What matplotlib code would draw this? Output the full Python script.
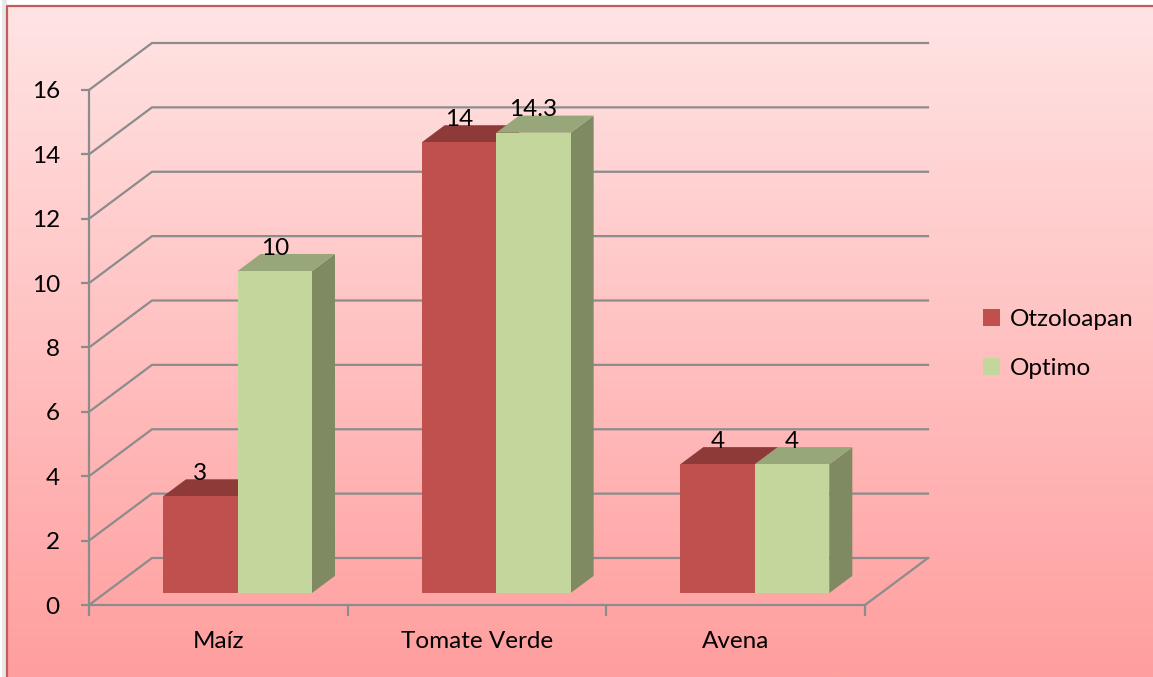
import numpy as np
import matplotlib
matplotlib.use('Agg')
import matplotlib.pyplot as plt
from matplotlib.patches import Polygon, Rectangle, Patch

# ---------------- data ----------------
categories = ['Maíz', 'Tomate Verde', 'Avena']
series_names = ['Otzoloapan', 'Optimo']
otzoloapan = [3, 14, 4]
optimo = [10, 14.3, 4]
y_ticks = [0, 2, 4, 6, 8, 10, 12, 14, 16]

# ---------------- style ----------------
front_cols = ['#C0504D', '#C3D69B']
top_cols = ['#8E3A38', '#98A77A']
side_cols = ['#8E3A38', '#7F8A62']
grid_col = '#8C8C8C'
FONT = 'Lato'
FS = 17.5

W, H = 1153, 677
fig = plt.figure(figsize=(W / 100, H / 100), dpi=100)

# background gradient + border
bg = fig.add_axes([0, 0, 1, 1], zorder=-10)
bg.set_xlim(0, W)
bg.set_ylim(H, 0)
bg.axis('off')
top_c = np.array([255, 228, 228]) / 255
bot_c = np.array([255, 158, 158]) / 255
t = np.linspace(0, 1, 256)[:, None]
grad = (top_c[None, :] * (1 - t) + bot_c[None, :] * t)[:, None, :]
bg.imshow(grad, extent=[7, W, H, 6], aspect='auto', interpolation='bilinear')
bg.add_patch(Rectangle((2, 0), 5, H, color='#E8E8E8', lw=0))
bg.plot([7, 7, W], [H, 6, 6], color='#C45A5A', lw=1.6, solid_capstyle='butt')

# main 3D-like axes
DX, DY = 0.2435, 1.46      # depth offset (category units, value units)
F0, F1 = 0.255, 0.62       # bar depth range (fraction of depth)
n = len(categories)
ymax = max(y_ticks)
left_px, right_px, bot_px, top_px = 89, 928, 605, 43
ax = fig.add_axes([left_px / W, 1 - bot_px / H, (right_px - left_px) / W, (bot_px - top_px) / H])
ax.set_xlim(0, n + DX)
ax.set_ylim(0, ymax + DY)
ax.patch.set_alpha(0)
for s in ['top', 'right']:
    ax.spines[s].set_visible(False)
for s in ['left', 'bottom']:
    ax.spines[s].set_color(grid_col)
    ax.spines[s].set_linewidth(1.6)
ax.spines['left'].set_bounds(0, ymax)
ax.spines['bottom'].set_bounds(0, n)

ax.set_yticks(y_ticks)
ax.set_yticklabels([str(v) for v in y_ticks], fontfamily=FONT, fontsize=FS)
ax.tick_params(axis='y', direction='out', length=6, width=1.6, color=grid_col, pad=15)
ax.set_xticks(np.arange(n + 1))
ax.set_xticklabels([''] * (n + 1))
ax.tick_params(axis='x', which='major', direction='out', length=8, width=1.6, color=grid_col)
ax.set_xticks(np.arange(n) + 0.5, minor=True)
ax.set_xticklabels(categories, minor=True, fontfamily=FONT, fontsize=FS)
ax.tick_params(axis='x', which='minor', length=0, pad=19)

# gridlines on side wall and back wall
for v in y_ticks:
    ax.plot([0, DX, n + DX], [v, v + DY, v + DY], color=grid_col, lw=1.6, zorder=1,
            clip_on=False, solid_joinstyle='miter')
ax.plot([n, n + DX], [0, DY], color=grid_col, lw=1.6, zorder=1, clip_on=False)

# bars
w = 0.288
dd = F1 - F0
shift = 0.012
series = [otzoloapan, optimo]
for i in range(n):
    for s, vals in enumerate(series):
        v = vals[i]
        x0 = i + 0.5 - w + s * w + F0 * DX + shift
        yb = F0 * DY
        z = 3 + s
        front = Rectangle((x0, yb), w, v, facecolor=front_cols[s], edgecolor='none', zorder=z)
        top = Polygon([(x0, v + yb), (x0 + w, v + yb), (x0 + w + dd * DX, v + yb + dd * DY),
                       (x0 + dd * DX, v + yb + dd * DY)], closed=True,
                      facecolor=top_cols[s], edgecolor='none', zorder=z)
        side = Polygon([(x0 + w, yb), (x0 + w, v + yb), (x0 + w + dd * DX, v + yb + dd * DY),
                        (x0 + w + dd * DX, yb + dd * DY)], closed=True,
                       facecolor=side_cols[s], edgecolor='none', zorder=z)
        for p in (side, top, front):
            ax.add_patch(p)
        ax.text(x0 + w / 2, v + F1 * DY - 0.15, f'{v:g}', ha='center', va='bottom',
                fontfamily=FONT, fontsize=FS, color='black', zorder=10)

# legend
handles = [Patch(facecolor=c, edgecolor='none') for c in front_cols]
fig.legend(handles, series_names, loc='center left', bbox_to_anchor=(961 / W, 1 - 344 / H),
           frameon=False, prop={'family': FONT, 'size': FS}, handlelength=0.7,
           handleheight=0.7, handletextpad=0.4, labelspacing=1.15)

fig.savefig('out.png', dpi=100)
